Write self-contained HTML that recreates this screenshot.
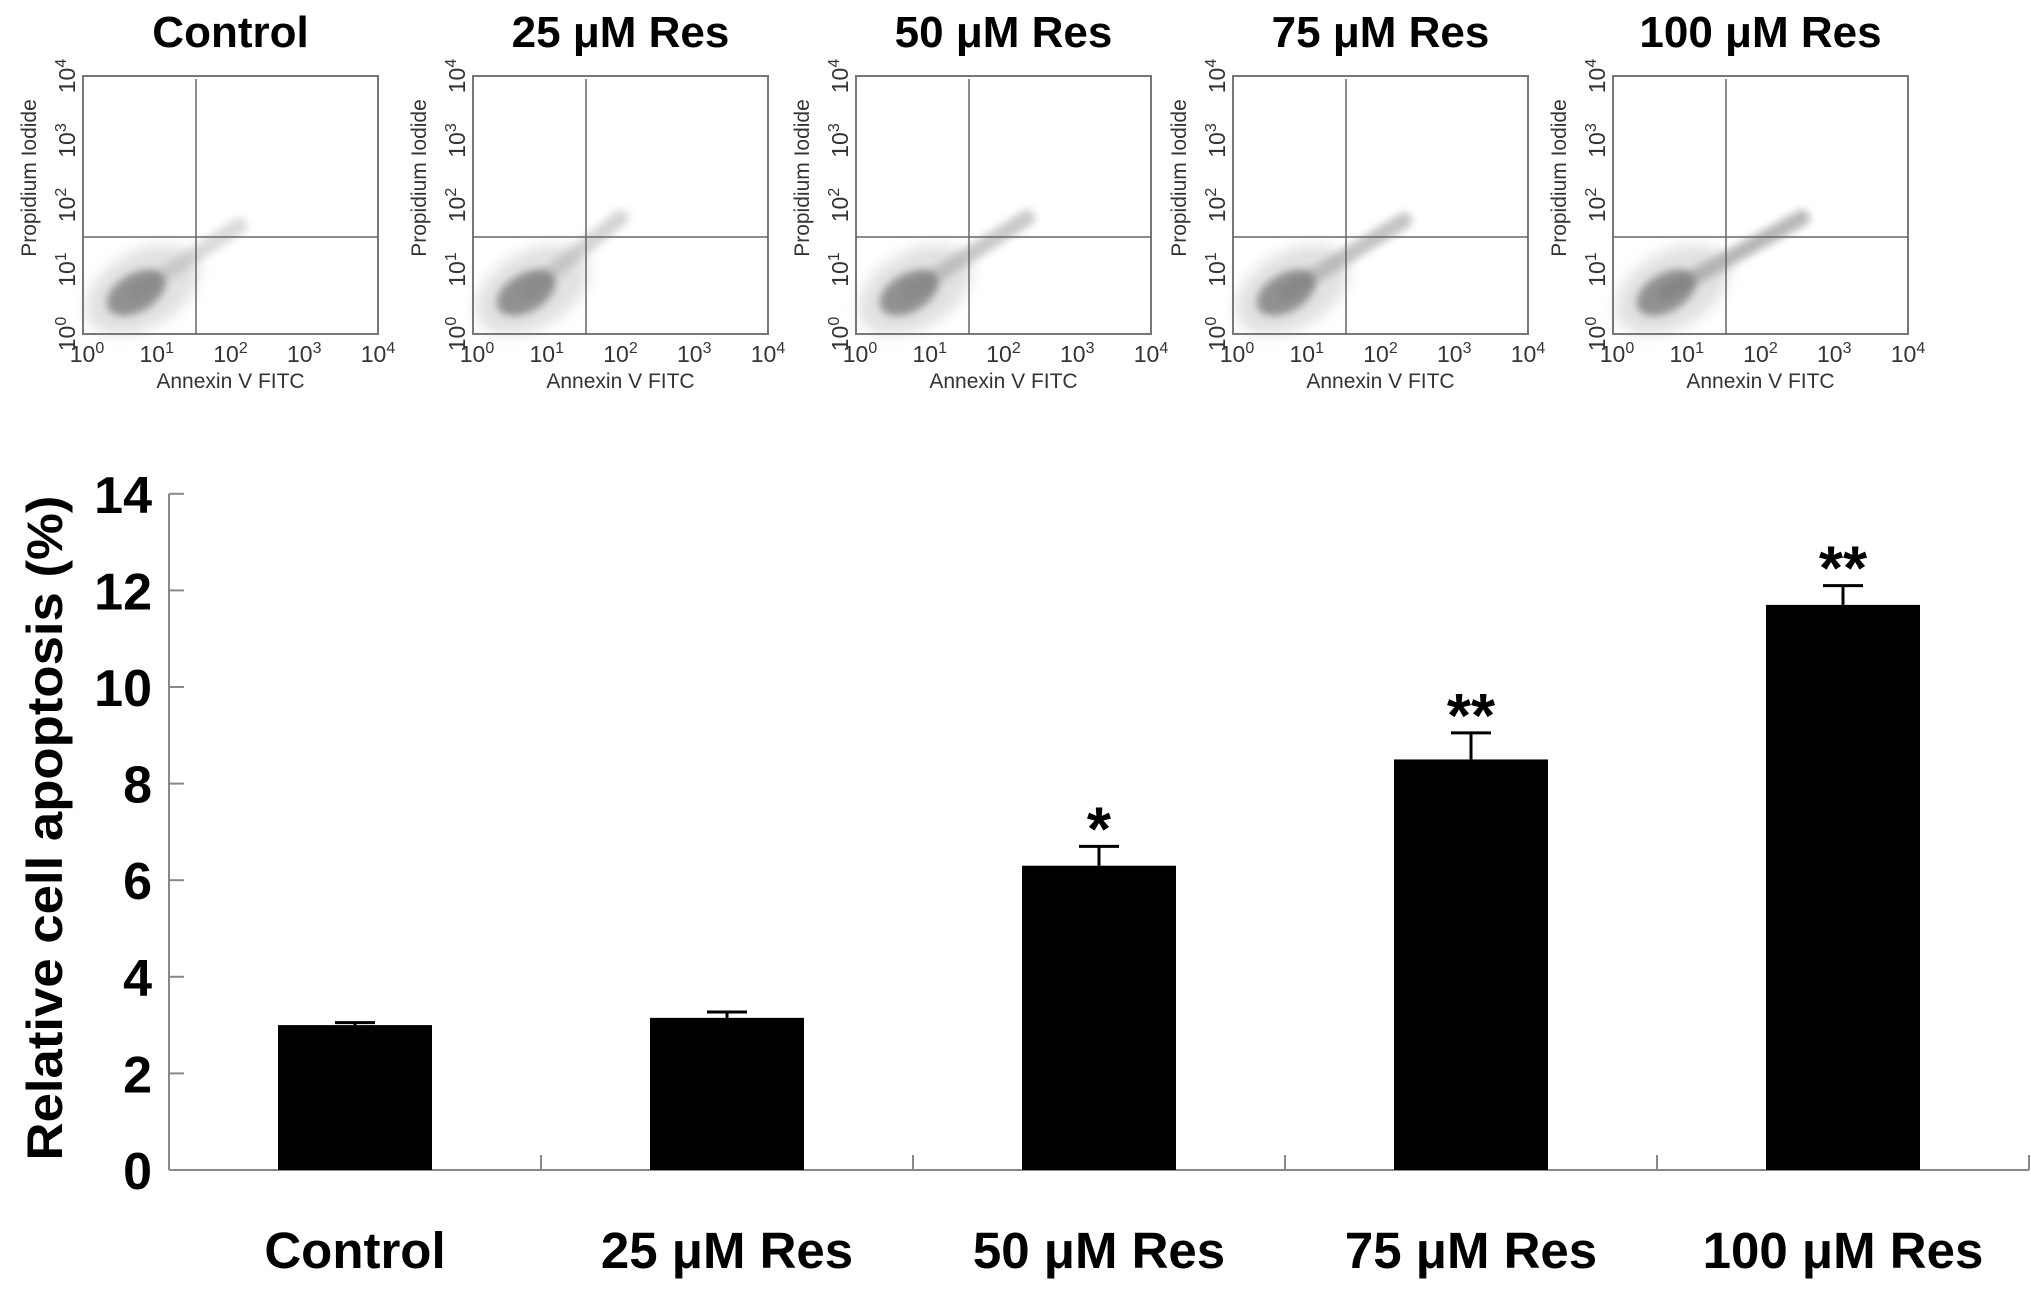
<!DOCTYPE html>
<html><head><meta charset="utf-8"><style>
html,body{margin:0;padding:0;background:#fff;}
svg{display:block;font-family:"Liberation Sans",Arial,sans-serif;}
</style></head><body>
<svg id="fig" width="2031" height="1293" viewBox="0 0 2031 1293" xmlns="http://www.w3.org/2000/svg">
<defs><filter id="blur" x="-50%" y="-50%" width="200%" height="200%"><feGaussianBlur stdDeviation="7"/></filter>
<filter id="blur2" x="-50%" y="-50%" width="200%" height="200%"><feGaussianBlur stdDeviation="4"/></filter></defs>
<g id="flow"></g>
<g id="bar"></g>
</svg>
<script>
// flow panels
const panelTitles = ["Control","25 μM Res","50 μM Res","75 μM Res","100 μM Res"];
const panelLefts = [83,473,856,1233,1613];
const streakEndX = [0.53,0.50,0.58,0.58,0.64];
const streakEndY = [0.58,0.55,0.55,0.56,0.55];
const streakOpacity = [0.3,0.35,0.45,0.5,0.6];
// bar chart data
const categories = ["Control","25 μM Res","50 μM Res","75 μM Res","100 μM Res"];
const values = [3.0,3.15,6.3,8.5,11.7];
const errors = [0.05,0.12,0.4,0.55,0.4];
const stars = ["","","*","**","**"];
const yTicks = [0,2,4,6,8,10,12,14];

const NS="http://www.w3.org/2000/svg";
function mk(tag,attrs,parent,txt){const e=document.createElementNS(NS,tag);for(const k in attrs)e.setAttribute(k,attrs[k]);if(txt!==undefined)e.textContent=txt;parent.appendChild(e);return e;}

const flow=document.getElementById('flow');
const BW=295,BT=76,BB=334,BH=BB-BT;
panelTitles.forEach((t,i)=>{
  const L=panelLefts[i];
  const g=mk('g',{},flow);
  
  
  const tt=mk('text',{x:L+BW/2,y:47,'text-anchor':'middle','font-size':44,'font-weight':'bold',fill:'#000'},g,t);
  
  
  const bx=L+0.18*BW, by=BT+0.84*BH;
  const ex=L+streakEndX[i]*BW, ey=BT+streakEndY[i]*BH;
  const st=mk('line',{x1:bx,y1:by,x2:ex,y2:ey,stroke:'#888','stroke-width':16,opacity:streakOpacity[i],filter:'url(#blur2)','stroke-linecap':'round'},g);
  
  
  const halo=mk('ellipse',{cx:bx+6,cy:by-3,rx:62,ry:38,fill:'#aaa',opacity:0.35,transform:`rotate(-30 ${bx+6} ${by-3})`,filter:'url(#blur)'},g);
  
  
  const blob=mk('ellipse',{cx:bx,cy:by,rx:32,ry:19,fill:'#777',opacity:0.75,transform:`rotate(-30 ${bx} ${by})`,filter:'url(#blur2)'},g);
  
  
  const box=mk('rect',{x:L,y:BT,width:BW,height:BH,fill:'none',stroke:'#777','stroke-width':2},g);
  
  
  const qv=mk('line',{x1:L+113,y1:BT+3,x2:L+113,y2:BB,stroke:'#666','stroke-width':1.5},g);
  
  
  const qh=mk('line',{x1:L,y1:237,x2:L+BW,y2:237,stroke:'#666','stroke-width':1.5},g);
  
  
  for(let k=0;k<=4;k++){
    const xt=mk('text',{x:L+k*BW/4+(k===0?4:0),y:362,'text-anchor':'middle','font-size':23,fill:'#333'},g);
    
    
    xt.appendChild(document.createTextNode('10'));
    mk('tspan',{dy:-9,'font-size':16},xt,String(k));
    const yy=BB-k*BH/4;
    const yt=mk('text',{x:0,y:0,'text-anchor':'middle','font-size':23,fill:'#333',transform:`translate(${L-8} ${yy}) rotate(-90)`},g);
    
    
    yt.appendChild(document.createTextNode('10'));
    mk('tspan',{dy:-9,'font-size':16},yt,String(k));
  }
  const xl=mk('text',{x:L+BW/2,y:388,'text-anchor':'middle','font-size':21,fill:'#333'},g,'Annexin V FITC');
  
  
  const yl=mk('text',{x:0,y:0,'text-anchor':'middle','font-size':21,fill:'#333',transform:`translate(${L-47} ${BT+102}) rotate(-90)`},g,'Propidium Iodide');
  
  
});

// bar chart
const bar=document.getElementById('bar');
const X0=169,X1=2029,Y0=1170,pxPerUnit=48.3;
const band=(X1-X0)/categories.length;
const ys=v=>Y0-v*pxPerUnit;
const xc=i=>X0+band*(i+0.5);
const ax=mk('line',{x1:X0,y1:ys(14),x2:X0,y2:Y0,stroke:'#888','stroke-width':2},bar);


const axx=mk('line',{x1:X0,y1:Y0,x2:X1,y2:Y0,stroke:'#888','stroke-width':2},bar);


yTicks.forEach(v=>{
  const t=mk('line',{x1:X0,y1:ys(v),x2:X0+15,y2:ys(v),stroke:'#888','stroke-width':2},bar);
  
  
  const l=mk('text',{x:152,y:ys(v)+19,'text-anchor':'end','font-size':52,'font-weight':'bold',fill:'#000'},bar,String(v));
  
  
});
for(let i=1;i<=categories.length;i++){
  const t=mk('line',{x1:X0+band*i,y1:Y0,x2:X0+band*i,y2:Y0-15,stroke:'#888','stroke-width':2},bar);
  
  
}
const bw=154;
categories.forEach((c,i)=>{
  const x=xc(i);
  const top=ys(values[i]), et=ys(values[i]+errors[i]);
  const e=mk('line',{x1:x,y1:top,x2:x,y2:et,stroke:'#000','stroke-width':3},bar);
  
  
  const cap=mk('line',{x1:x-20,y1:et,x2:x+20,y2:et,stroke:'#000','stroke-width':3},bar);
  
  
  const r=mk('rect',{x:x-bw/2,y:top,width:bw,height:Y0-top,fill:'#000'},bar);
  
  
  if(stars[i]){
    const s=mk('text',{x:x,y:et+4,'text-anchor':'middle','font-size':62,'font-weight':'bold',fill:'#000'},bar,stars[i]);
    
    
  }
  const l=mk('text',{x:x,y:1268,'text-anchor':'middle','font-size':51,'font-weight':'bold',fill:'#000'},bar,c);
  
  
});
const yt=mk('text',{x:0,y:0,'text-anchor':'middle','font-size':50,'font-weight':'bold',fill:'#000',textLength:665,lengthAdjust:'spacingAndGlyphs',transform:'translate(62 828) rotate(-90)'},bar,'Relative cell apoptosis (%)');


</script>
</body></html>
